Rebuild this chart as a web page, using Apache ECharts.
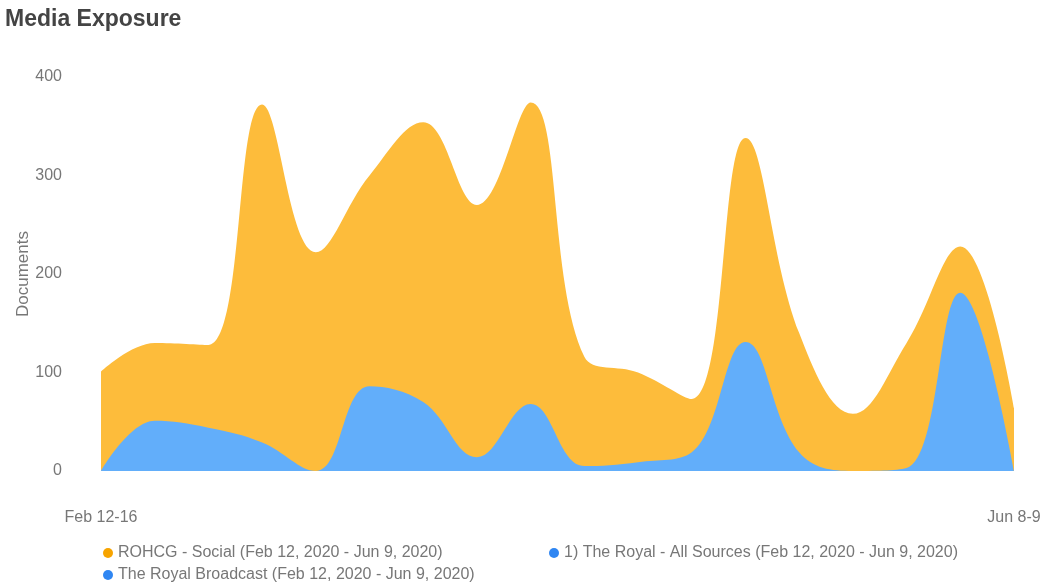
<!DOCTYPE html>
<html>
<head>
<meta charset="utf-8">
<script src="https://cdn.jsdelivr.net/npm/echarts@6/dist/echarts.min.js"></script>
<style>
html,body{margin:0;padding:0;background:#fff;}
#chart{width:1048px;height:582px;}
</style>
</head>
<body>
<div id="chart"></div>
<script>
const categories = ['Feb 12-16','Feb 17-23','Feb 24-Mar 1','Mar 2-8','Mar 9-15','Mar 16-22','Mar 23-29','Mar 30-Apr 5','Apr 6-12','Apr 13-19','Apr 20-26','Apr 27-May 3','May 4-10','May 11-17','May 18-24','May 25-31','Jun 1-7','Jun 8-9'];
const socialValues = [101, 130, 128, 372, 222, 300, 354, 270, 374, 116, 100, 73, 338, 140, 58, 130, 228, 64];
const allSourcesValues = [];
const broadcastValues = [0, 51, 44, 29, 0, 86, 70, 14, 68, 5, 9, 19, 131, 19, 0, 3, 181, 0];
const yTicks = {min: 0, max: 400, interval: 100};
const seriesNames = [
  'ROHCG - Social (Feb 12, 2020 - Jun 9, 2020)',
  '1) The Royal - All Sources (Feb 12, 2020 - Jun 9, 2020)',
  'The Royal Broadcast (Feb 12, 2020 - Jun 9, 2020)'
];

const chart = echarts.init(document.getElementById('chart'), null, {renderer: 'canvas'});
const last = categories.length - 1;
const font = 'Liberation Sans, Arial, Helvetica, sans-serif';
const legendBase = {
  icon: 'circle', itemWidth: 10, itemHeight: 10, itemGap: 5,
  padding: 0,
  textStyle: {fontFamily: font, fontSize: 16, color: '#777'}
};
chart.setOption({
  animation: false,
  backgroundColor: '#fff',
  title: {
    text: 'Media Exposure',
    left: 5, top: 8, padding: 0,
    textStyle: {fontFamily: font, fontSize: 23, fontWeight: 'bold', color: '#444'}
  },
  legend: [
    Object.assign({}, legendBase, {data: [seriesNames[0]], left: 103, top: 545}),
    Object.assign({}, legendBase, {data: [seriesNames[2]], left: 103, top: 567}),
    Object.assign({}, legendBase, {data: [seriesNames[1]], left: 549, top: 545})
  ],
  grid: {left: 101, right: 34, top: 77, bottom: 111, containLabel: false},
  xAxis: {
    type: 'category',
    data: categories,
    boundaryGap: false,
    axisLine: {show: false},
    axisTick: {show: false},
    splitLine: {show: false},
    axisLabel: {
      interval: (i) => i === 0 || i === last,
      margin: 39,
      fontFamily: font, fontSize: 16, color: '#777'
    }
  },
  yAxis: {
    type: 'value',
    min: yTicks.min, max: yTicks.max, interval: yTicks.interval,
    name: 'Documents',
    nameLocation: 'middle',
    nameGap: 69,
    nameMoveOverlap: false,
    nameTextStyle: {fontFamily: font, fontSize: 17, color: '#777'},
    axisLine: {show: false},
    axisTick: {show: false},
    splitLine: {show: false},
    axisLabel: {margin: 39, fontFamily: font, fontSize: 16, color: '#777'}
  },
  series: [
    {
      name: seriesNames[0],
      type: 'line', data: socialValues, smooth: 0.4, symbol: 'none',
      itemStyle: {color: '#F7A400'},
      lineStyle: {width: 0},
      areaStyle: {color: '#FDBC3B', opacity: 1}
    },
    {
      name: seriesNames[1],
      type: 'line', data: allSourcesValues, smooth: 0.4, symbol: 'none',
      itemStyle: {color: '#2F86F2'},
      lineStyle: {width: 0},
      areaStyle: {color: '#62AEFA', opacity: 1}
    },
    {
      name: seriesNames[2],
      type: 'line', data: broadcastValues, smooth: 0.4, symbol: 'none',
      itemStyle: {color: '#2F86F2'},
      lineStyle: {width: 0},
      areaStyle: {color: '#62AEFA', opacity: 1}
    }
  ]
});
</script>
</body>
</html>
